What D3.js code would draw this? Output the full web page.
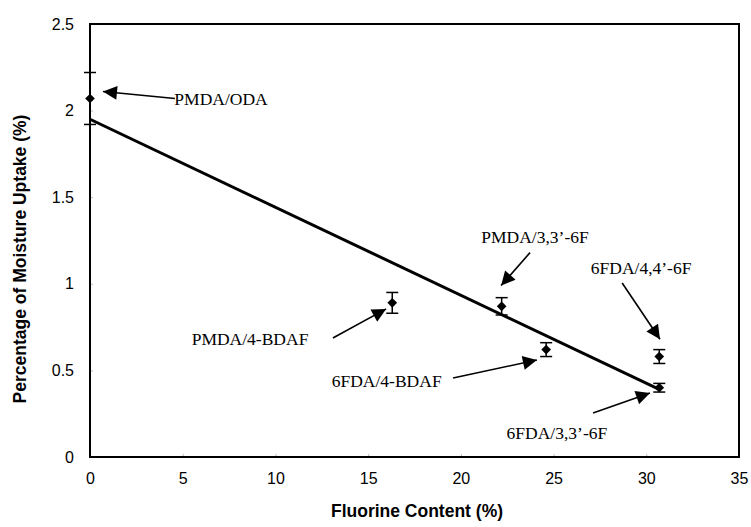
<!DOCTYPE html>
<html>
<head>
<meta charset="utf-8">
<script src="https://cdn.jsdelivr.net/npm/d3@7"></script>
<style>
  body { margin: 0; background: #fff; }
  svg { display: block; }
</style>
</head>
<body>
<div id="chart"></div>
<script>
/* data */
var names = ["PMDA/ODA", "PMDA/4-BDAF", "PMDA/3,3\u2019-6F", "6FDA/4-BDAF", "6FDA/4,4\u2019-6F", "6FDA/3,3\u2019-6F"];
var fluorine = [0, 16.3, 22.2, 24.6, 30.7, 30.7];
var uptake = [2.07, 0.89, 0.87, 0.62, 0.58, 0.40];
var errs = [0.15, 0.06, 0.05, 0.04, 0.04, 0.025];

/* linear fit line end points */
var fitX = [0, 30.7];
var fitY = [1.95, 0.39];

/* label positions and arrows (data units) */
var labelX = [4.55, 8.63, 24.0, 16.0, 29.72, 25.18];
var labelY = [2.03, 0.645, 1.235, 0.405, 1.057, 0.104];
var labelAnchor = ["start", "middle", "middle", "middle", "middle", "middle"];
var arrowFrom = [[4.58, 2.07], [13.1, 0.687], [23.73, 1.18], [19.58, 0.456], [28.7, 1.005], [27.13, 0.254]];
var arrowTo = [[0.70, 2.11], [15.97, 0.855], [22.17, 0.99], [24.1, 0.56], [30.74, 0.68], [30.2, 0.37]];

var xTicks = [0, 5, 10, 15, 20, 25, 30, 35];
var yTicks = [0, 0.5, 1, 1.5, 2, 2.5];

var width = 751, height = 527;
var plotLeft = 90, plotRight = 739, plotTop = 24, plotBottom = 457;

var svg = d3.select("#chart").append("svg")
    .attr("width", width)
    .attr("height", height);

var x = d3.scaleLinear().domain([0, 35]).range([plotLeft, plotRight]);
var y = d3.scaleLinear().domain([0, 2.5]).range([plotBottom, plotTop]);

/* arrow head marker */
svg.append("defs").append("marker")
    .attr("id", "head")
    .attr("viewBox", "0 0 10 10")
    .attr("refX", 10)
    .attr("refY", 5)
    .attr("markerWidth", 17)
    .attr("markerHeight", 14)
    .attr("markerUnits", "userSpaceOnUse")
    .attr("orient", "auto")
    .append("path")
    .attr("d", "M0,0 L10,5 L0,10 Z")
    .attr("fill", "#000");

/* axes (tick marks small and inside, like the original) */
var xAxis = d3.axisBottom(x).tickValues(xTicks).tickSize(-3).tickPadding(13);
var yAxis = d3.axisLeft(y).tickValues(yTicks).tickSize(-3).tickPadding(16)
    .tickFormat(d3.format("~g"));

var gx = svg.append("g").attr("transform", "translate(0," + plotBottom + ")").call(xAxis);
var gy = svg.append("g").attr("transform", "translate(" + plotLeft + ",0)").call(yAxis);

[gx, gy].forEach(function(g) {
    g.select(".domain").remove();
    g.selectAll(".tick line").attr("stroke", "#bbb");
    g.selectAll(".tick text")
        .attr("font-family", "Liberation Sans, Arial, sans-serif")
        .attr("font-size", "16px")
        .attr("fill", "#000");
});
gx.selectAll(".tick text").attr("dy", "0.85em");

/* plot frame */
svg.append("rect")
    .attr("x", plotLeft)
    .attr("y", plotTop)
    .attr("width", plotRight - plotLeft)
    .attr("height", plotBottom - plotTop)
    .attr("fill", "none")
    .attr("stroke", "#000")
    .attr("stroke-width", 2);

/* fit line */
svg.append("line")
    .attr("x1", x(fitX[0])).attr("y1", y(fitY[0]))
    .attr("x2", x(fitX[1])).attr("y2", y(fitY[1]))
    .attr("stroke", "#000")
    .attr("stroke-width", 3);

/* error bars */
var pts = names.map(function(n, i) {
    return { name: n, x: fluorine[i], y: uptake[i], e: errs[i] };
});

var eb = svg.append("g").attr("stroke", "#000").attr("stroke-width", 1.5);
pts.forEach(function(d) {
    var cx = x(d.x);
    eb.append("line").attr("x1", cx).attr("x2", cx).attr("y1", y(d.y + d.e)).attr("y2", y(d.y - d.e));
    eb.append("line").attr("x1", cx - 6).attr("x2", cx + 6).attr("y1", y(d.y + d.e)).attr("y2", y(d.y + d.e));
    eb.append("line").attr("x1", cx - 6).attr("x2", cx + 6).attr("y1", y(d.y - d.e)).attr("y2", y(d.y - d.e));
});

/* diamond markers */
svg.selectAll(".pt")
    .data(pts)
    .enter().append("path")
    .attr("class", "pt")
    .attr("d", d3.symbol().type(d3.symbolDiamond2).size(60))
    .attr("transform", function(d) { return "translate(" + x(d.x) + "," + y(d.y) + ")"; })
    .attr("fill", "#000");

/* annotation arrows */
svg.selectAll(".arrow")
    .data(arrowFrom)
    .enter().append("line")
    .attr("class", "arrow")
    .attr("x1", function(d) { return x(d[0]); })
    .attr("y1", function(d) { return y(d[1]); })
    .attr("x2", function(d, i) { return x(arrowTo[i][0]); })
    .attr("y2", function(d, i) { return y(arrowTo[i][1]); })
    .attr("stroke", "#000")
    .attr("stroke-width", 1.6)
    .attr("marker-end", "url(#head)");

/* annotation labels */
svg.selectAll(".lbl")
    .data(names)
    .enter().append("text")
    .attr("class", "lbl")
    .attr("x", function(d, i) { return x(labelX[i]); })
    .attr("y", function(d, i) { return y(labelY[i]); })
    .attr("text-anchor", function(d, i) { return labelAnchor[i]; })
    .attr("font-family", "Liberation Serif, Times New Roman, serif")
    .attr("font-size", "17.5px")
    .text(function(d) { return d; });

/* axis titles */
svg.append("text")
    .attr("x", 417)
    .attr("y", 517)
    .attr("text-anchor", "middle")
    .attr("font-family", "Liberation Sans, Arial, sans-serif")
    .attr("font-weight", "bold")
    .attr("font-size", "17.5px")
    .text("Fluorine Content (%)");

svg.append("text")
    .attr("transform", "translate(26,259) rotate(-90)")
    .attr("text-anchor", "middle")
    .attr("font-family", "Liberation Sans, Arial, sans-serif")
    .attr("font-weight", "bold")
    .attr("font-size", "17.5px")
    .text("Percentage of Moisture Uptake (%)");
</script>
</body>
</html>
